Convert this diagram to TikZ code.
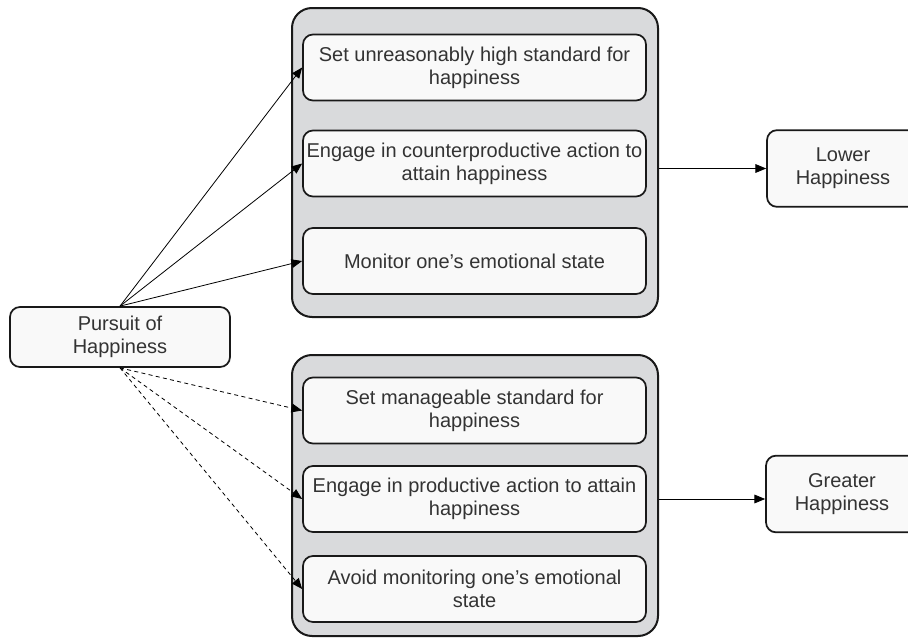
\documentclass[tikz,border=0pt]{standalone}
\usepackage{fontspec}
\setmainfont{Liberation Sans}
\usepackage{xcolor}
\usepackage{tikz}
\usetikzlibrary{positioning,arrows.meta}

\definecolor{grpgray}{HTML}{D9DADC}
\definecolor{boxwhite}{HTML}{F9F9F9}
\definecolor{textgray}{HTML}{333333}

\begin{document}
\begin{tikzpicture}[
        x = 0.75pt, y = -0.75pt,
        every node/.style = {font=\fontsize{15}{17.25}\selectfont, text=textgray, align=center},
        link/.style = {-{Triangle[length=8pt, width=6.5pt]}, line width=0.6pt},
    ]
    \tikzstyle{groupbox} = [draw=black!90, line width=1.5pt, rounded corners=15pt, fill=grpgray, minimum width=274.5pt, inner sep=0pt];
    \tikzstyle{stepbox} = [draw=black!90, line width=1.3pt, rounded corners=7.5pt, fill=boxwhite, minimum width=257.25pt, minimum height=49.5pt, inner sep=0pt];
    \tikzstyle{endbox} = [draw=black!90, line width=1.3pt, rounded corners=7.5pt, fill=boxwhite, minimum width=114pt, minimum height=57.5pt, inner sep=0pt];
    \useasboundingbox (0,0) rectangle (908,639);
    \clip (0,0) rectangle (908,639);
    % grey groups
    \node [groupbox, minimum height=231.75pt] (topgrp) at (475,162.5) {};
    \node [groupbox, minimum height=210.75pt] (botgrp) at (475,495.5) {};
    % steps
    \node [stepbox] (s1) at (474.5,67.5) {Set unreasonably high standard for\\happiness};
    \node [stepbox] (s2) at (474.5,163.5) {Engage in counterproductive action to\\attain happiness};
    \node [stepbox] (s3) at (474.5,261) {Monitor one's emotional state};
    \node [stepbox] (s4) at (474.5,410.5) {Set manageable standard for\\happiness};
    \node [stepbox] (s5) at (474.5,499) {Engage in productive action to attain\\happiness};
    \node [stepbox] (s6) at (474.5,589) {Avoid monitoring one's emotional\\state};
    % start and outcomes
    \node [endbox, minimum width=165pt, minimum height=45pt] (pursuit) at (120,337) {Pursuit of\\Happiness};
    \node [endbox] (lower) at (843,168.5) {Lower\\Happiness};
    \node [endbox] (greater) at (842,494) {Greater\\Happiness};
    \draw [link] (pursuit.north) -- (s1.west);
    \draw [link] (pursuit.north) -- (s2.west);
    \draw [link] (pursuit.north) -- (s3.west);
    \draw [link, dash pattern=on 3pt off 2.5pt] (pursuit.south) -- (s4.west);
    \draw [link, dash pattern=on 3pt off 2.5pt] (pursuit.south) -- (s5.west);
    \draw [link, dash pattern=on 3pt off 2.5pt] (pursuit.south) -- (s6.west);
    \draw [link] (topgrp.east |- lower) -- (lower.west);
    \draw [link] (botgrp.east |- s5) -- (s5 -| greater.west);
\end{tikzpicture}
\end{document}
